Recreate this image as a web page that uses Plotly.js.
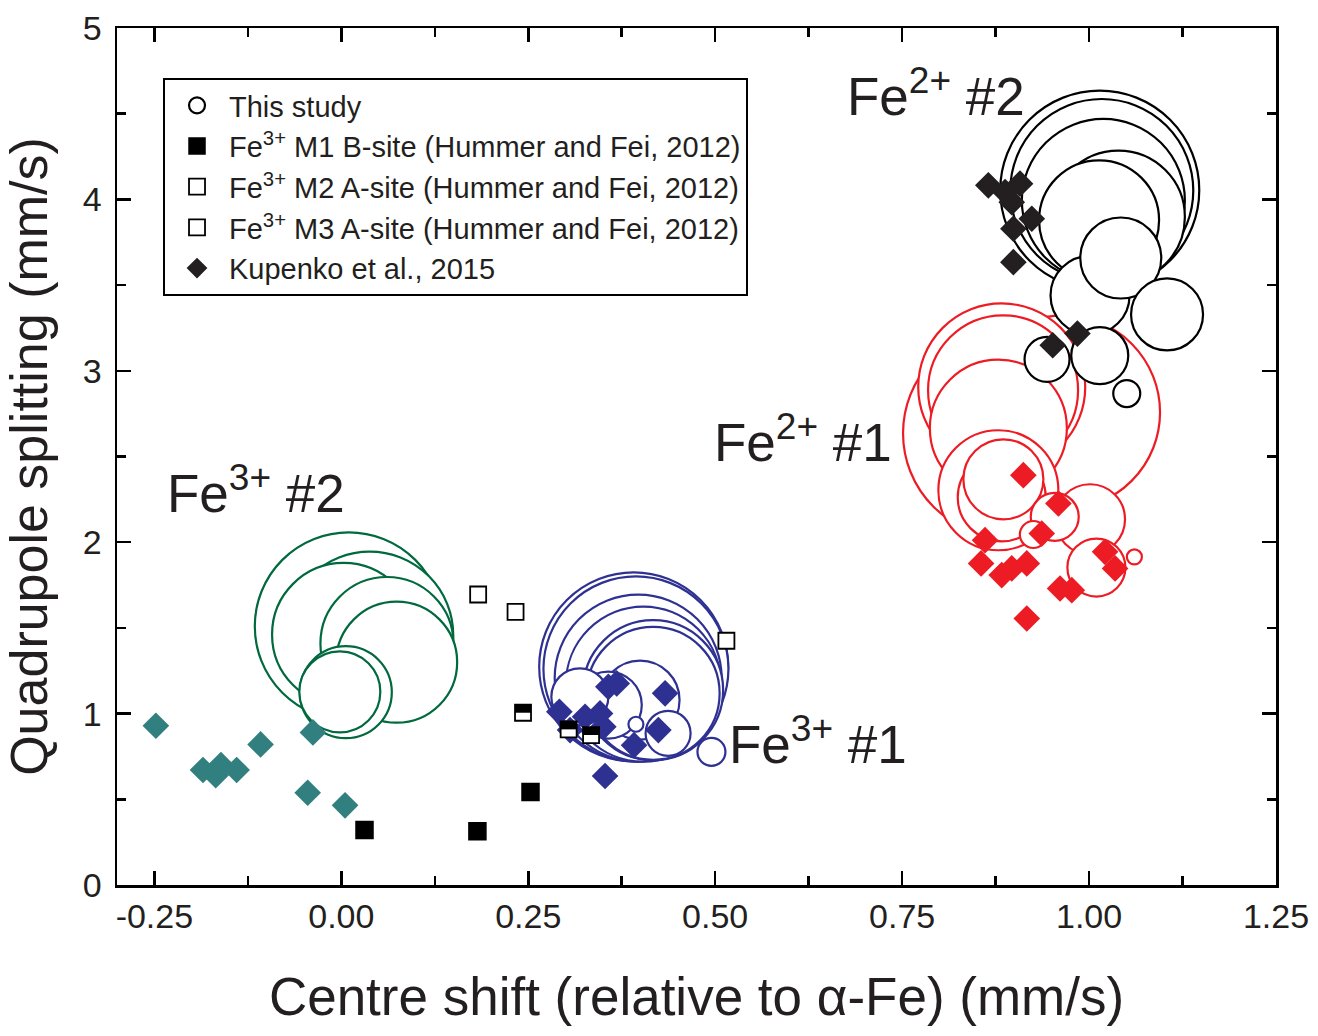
<!DOCTYPE html>
<html>
<head>
<meta charset="utf-8">
<script src="https://cdn.plot.ly/plotly-3.0.1.min.js"></script>
<style>html,body{margin:0;padding:0;background:#fff;}#chart{width:1318px;height:1036px;}</style>
</head>
<body>
<div id="chart"></div>
<script>
// ---------------- DATA (centre shift in mm/s, quadrupole splitting in mm/s) ----------------
// This study, Fe3+ #2 (bubble diameters in px)
const fe3s2_cs   = [0.010, 0.038, 0.003, 0.061, 0.074, 0.006, -0.002];
const fe3s2_qs   = [1.509, 1.458, 1.462, 1.409, 1.300, 1.125, 1.127];
const fe3s2_size = [188, 167, 143, 133, 121, 92, 81];

// This study, Fe3+ #1
const fe3s1_cs   = [0.391, 0.394, 0.397, 0.404, 0.417, 0.417, 0.3995, 0.357, 0.319, 0.437, 0.495, 0.394];
const fe3s1_qs   = [1.273, 1.261, 1.207, 1.172, 1.137, 1.118, 1.079, 1.050, 1.098, 0.885, 0.777, 0.938];
const fe3s1_size = [189, 185, 167, 155, 140, 133, 79, 67, 57, 45, 28, 15];

// This study, Fe2+ #1
const fe2s1_cs   = [0.8903, 0.9652, 0.8832, 0.885, 0.8787, 0.8787, 0.8832, 0.8854, 1.0013, 1.0098, 0.9541, 0.9255, 1.0606];
const fe2s1_qs   = [2.636, 2.758, 2.906, 2.886, 2.665, 2.303, 2.262, 2.367, 2.134, 1.852, 2.148, 2.045, 1.914];
const fe2s1_size = [208, 194, 167, 150, 137, 120, 88, 80, 70, 58, 48, 27, 15];

// This study, Fe2+ #2
const fe2s2_cs   = [1.0143, 1.017, 1.0191, 1.0392, 1.0134, 1.0013, 1.0424, 1.1043, 1.0143, 0.9438, 1.0504];
const fe2s2_qs   = [4.054, 4.052, 3.994, 3.897, 3.878, 3.440, 3.658, 3.329, 3.089, 3.067, 2.867];
const fe2s2_size = [199, 183, 163, 133, 120, 79, 81, 72, 57, 45, 27];

// Kupenko et al., 2015
const kupFe3s2_cs = [-0.248, -0.185, -0.168, -0.161, -0.140, -0.108, -0.038, -0.045, 0.005];
const kupFe3s2_qs = [0.929, 0.671, 0.641, 0.700, 0.671, 0.820, 0.890, 0.538, 0.465];
const kupFe3s1_cs = [0.2916, 0.3059, 0.3571, 0.3683, 0.346, 0.3504, 0.326, 0.433, 0.3915, 0.424, 0.3527];
const kupFe3s1_qs = [1.0105, 0.904, 1.156, 1.176, 1.001, 0.923, 0.981, 1.118, 0.816, 0.904, 0.636];
const kupFe2s1_cs = [0.9121, 0.959, 0.9367, 0.8609, 0.8556, 0.8832, 0.8966, 0.9167, 1.0214, 1.0348, 0.9612, 0.9769, 0.9167];
const kupFe2s1_qs = [2.391, 2.226, 2.051, 2.012, 1.876, 1.808, 1.847, 1.876, 1.944, 1.847, 1.730, 1.720, 1.555];
const kupFe2s2_cs = [0.8653, 0.8877, 0.9077, 0.8966, 0.9234, 0.8988, 0.8988, 0.9514, 0.9844];
const kupFe2s2_qs = [4.082, 4.043, 4.092, 3.984, 3.887, 3.829, 3.634, 3.149, 3.217];

// Hummer and Fei, 2012
const m1_cs = [0.031, 0.182, 0.253];
const m1_qs = [0.321, 0.313, 0.542];
const m2_cs = [0.183, 0.233, 0.515];
const m2_qs = [1.695, 1.594, 1.425];
const m3_cs = [0.243, 0.304, 0.334];
const m3_qs = [1.005, 0.908, 0.875];

// In-plot labels
const labelText = ['Fe<sup>2+</sup> #2', 'Fe<sup>2+</sup> #1', 'Fe<sup>3+</sup> #2', 'Fe<sup>3+</sup> #1'];
const labelCs   = [0.795, 0.617, -0.114, 0.638];
const labelQs   = [4.625, 2.606, 2.305, 0.845];

// Axis ticks
const xTickVals = [-0.25, 0, 0.25, 0.5, 0.75, 1.0, 1.25];
const xTickText = ['-0.25', '0.00', '0.25', '0.50', '0.75', '1.00', '1.25'];
const yTickVals = [0, 1, 2, 3, 4, 5];
const yTickText = ['0', '1', '2', '3', '4', '5'];

// ---------------- STYLE ----------------
const FONT = '"Liberation Sans", Arial, Helvetica, sans-serif';
const TXT = '#231f20';
const C_GREEN = '#00693e', C_BLUE = '#2e3192', C_RED = '#ed1c24', C_BLACK = '#000000';
const C_TEAL = '#31807f', C_KBLACK = '#231f20';

function bubbles(x, y, s, col, extra) {
  return Object.assign({
    type: 'scatter', mode: 'markers', x: x, y: y, showlegend: false, hoverinfo: 'skip',
    marker: { symbol: 'circle', size: s, sizemode: 'diameter', color: '#ffffff', opacity: 1,
              line: { color: col, width: 2.2 } }
  }, extra || {});
}
function diamonds(x, y, col, extra) {
  return Object.assign({
    type: 'scatter', mode: 'markers', x: x, y: y, showlegend: false, hoverinfo: 'skip',
    marker: { symbol: 'diamond', size: 20.5, color: col, opacity: 1, line: { width: 0 } }
  }, extra || {});
}

const traces = [
  bubbles(fe3s2_cs, fe3s2_qs, fe3s2_size, C_GREEN),
  bubbles(fe3s1_cs, fe3s1_qs, fe3s1_size, C_BLUE),
  bubbles(fe2s1_cs, fe2s1_qs, fe2s1_size, C_RED),
  bubbles(fe2s2_cs, fe2s2_qs, fe2s2_size, C_BLACK, { name: 'This study', showlegend: true, legendrank: 1 }),
  diamonds(kupFe3s2_cs, kupFe3s2_qs, C_TEAL),
  diamonds(kupFe3s1_cs, kupFe3s1_qs, C_BLUE),
  diamonds(kupFe2s1_cs, kupFe2s1_qs, C_RED),
  diamonds(kupFe2s2_cs, kupFe2s2_qs, C_KBLACK, { name: 'Kupenko et al., 2015', showlegend: true, legendrank: 5 }),
  { type: 'scatter', mode: 'markers', x: m1_cs, y: m1_qs, name: 'Fe<sup>3+</sup> M1 B-site (Hummer and Fei, 2012)',
    showlegend: true, legendrank: 2, hoverinfo: 'skip',
    marker: { symbol: 'square', size: 17, color: '#000000', opacity: 1, line: { color: '#000000', width: 1.5 } } },
  { type: 'scatter', mode: 'markers', x: m2_cs, y: m2_qs, name: 'Fe<sup>3+</sup> M2 A-site (Hummer and Fei, 2012)',
    showlegend: true, legendrank: 3, hoverinfo: 'skip',
    marker: { symbol: 'square', size: 16, color: '#ffffff', opacity: 1, line: { color: '#000000', width: 1.8 } } },
  // M3: white square with black upper half
  { type: 'scatter', mode: 'markers', x: m3_cs, y: m3_qs, name: 'Fe<sup>3+</sup> M3 A-site (Hummer and Fei, 2012)',
    showlegend: true, legendrank: 4, hoverinfo: 'skip',
    marker: { symbol: 'square', size: 16, color: '#ffffff', opacity: 1, line: { color: '#000000', width: 1.8 } } },
  { type: 'scatter', mode: 'markers', x: m3_cs, y: m3_qs, showlegend: false, hoverinfo: 'skip',
    marker: { symbol: 'line-ew', size: 11.4, color: '#000000', opacity: 1, angle: 180, standoff: 4,
              line: { color: '#000000', width: 8 } } }
];

const annotations = labelText.map((t, i) => ({
  x: labelCs[i], y: labelQs[i], xref: 'x', yref: 'y', text: t, showarrow: false,
  font: { family: FONT, size: 53, color: TXT }, xanchor: 'center', yanchor: 'middle'
}));

const axisCommon = {
  showline: true, linecolor: '#000000', linewidth: 2.5, mirror: 'ticks',
  ticks: 'inside', ticklen: 14, tickwidth: 2.5, tickcolor: '#000000',
  showgrid: false, zeroline: false, tickmode: 'array',
  tickfont: { family: FONT, size: 34, color: TXT }
};

const layout = {
  width: 1318, height: 1036,
  margin: { l: 117, r: 42, t: 28, b: 151, pad: 0 },
  paper_bgcolor: '#ffffff', plot_bgcolor: '#ffffff',
  font: { family: FONT, color: TXT },
  showlegend: true,
  xaxis: Object.assign({}, axisCommon, {
    range: [-0.3, 1.25], tickvals: xTickVals, ticktext: xTickText,
    minor: { dtick: 0.125, tick0: 0, ticks: 'inside', ticklen: 9, tickwidth: 2.5, tickcolor: '#000000' },
    title: { text: 'Centre shift (relative to α-Fe) (mm/s)', font: { family: FONT, size: 53, color: TXT }, standoff: 44 }
  }),
  yaxis: Object.assign({}, axisCommon, {
    range: [0, 5], tickvals: yTickVals, ticktext: yTickText, ticklabelstandoff: 6,
    minor: { dtick: 0.5, tick0: 0, ticks: 'inside', ticklen: 9, tickwidth: 2.5, tickcolor: '#000000' },
    title: { text: 'Quadrupole splitting (mm/s)', font: { family: FONT, size: 52, color: TXT }, standoff: 20 }
  }),
  legend: {
    x: 0.0397, y: 0.9417, xanchor: 'left', yanchor: 'top',
    bgcolor: '#ffffff', bordercolor: '#000000', borderwidth: 2, itemwidth: 54,
    font: { family: FONT, size: 29, color: TXT }, traceorder: 'normal', itemsizing: 'trace'
  },
  annotations: annotations
};

Plotly.newPlot('chart', traces, layout, { staticPlot: true, displayModeBar: false });
</script>
</body>
</html>
